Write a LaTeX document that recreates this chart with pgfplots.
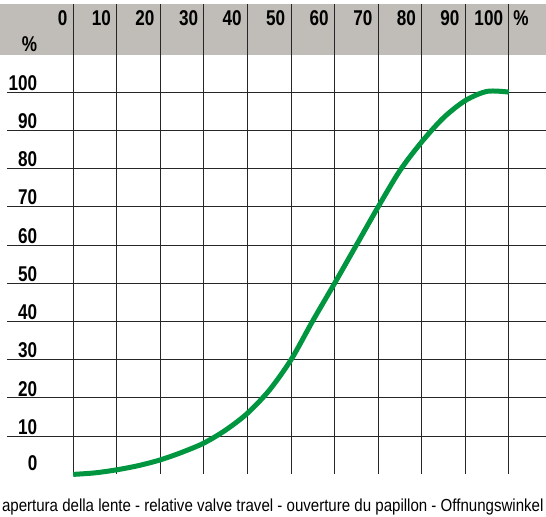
\documentclass[border=0pt]{standalone}
\usepackage{pgfplots}
\pgfplotsset{compat=1.18}
\usepackage{fontspec}
\setmainfont{Liberation Sans}
\newfontfamily\headfont[FakeStretch=0.8]{Liberation Sans}
\newfontfamily\capfont[FakeStretch=0.865]{Liberation Sans}
\definecolor{band}{RGB}{192,189,184}
\definecolor{curvegreen}{RGB}{0,150,64}
\begin{document}
\begin{tikzpicture}
\begin{axis}[
    x=4.362bp, y=3.827bp,
    xmin=-16.8, xmax=108.4,
    ymin=-11, ymax=124.1,
    hide axis, clip=false,
]
\path (rel axis cs:0,0) rectangle (rel axis cs:1,1);
% header band
\fill[band] (axis cs:-16.8,109.8) rectangle (axis cs:108.4,123.1);
% horizontal lines and y labels
\pgfplotsinvokeforeach{10,20,...,100}{
  \draw[black!85, line width=1bp] (axis cs:-15.2,#1) -- (axis cs:108.4,#1);
  \node[anchor=south east, inner sep=0pt, font=\headfont\bfseries\fontsize{21.5}{22}\selectfont]
    at (axis cs:-8.2,#1+0.4) {#1};
}
\node[anchor=south east, inner sep=0pt, font=\headfont\bfseries\fontsize{21.5}{22}\selectfont]
  at (axis cs:-8.2,0.8) {0};
% vertical lines and x labels
\pgfplotsinvokeforeach{0,10,...,100}{
  \draw[black!85, line width=1bp] (axis cs:#1,0.2) -- (axis cs:#1,123.1);
  \node[anchor=base east, inner sep=0pt, font=\headfont\bfseries\fontsize{21.5}{22}\selectfont]
    at (axis cs:#1-1.3,117.4) {#1};
}
\node[anchor=base west, inner sep=0pt, font=\headfont\bfseries\fontsize{21.5}{22}\selectfont]
  at (axis cs:101.0,117.4) {\%};
\node[anchor=base west, inner sep=0pt, font=\headfont\bfseries\fontsize{21.5}{22}\selectfont]
  at (axis cs:-11.8,110.5) {\%};
% characteristic curve
\addplot[curvegreen, line width=5bp, smooth] coordinates {
  (0,0) (5,0.4) (10,1.2) (15,2.3) (20,3.8) (25,5.8) (30,8.2) (35,11.6)
  (40,16.0) (45,22.0) (50,30.0) (55,40.2) (60,50.0) (65,60.0) (70,70.0)
  (75,79.5) (80,87.0) (85,93.3) (90,97.8) (95,100.2) (100,100.0)
};
% caption
\node[anchor=base, inner sep=0pt, font=\capfont\fontsize{17.5}{19}\selectfont]
  at (axis cs:45.8,-9.6) {apertura della lente - relative valve travel - ouverture du papillon - Offnungswinkel};
\end{axis}
\end{tikzpicture}
\end{document}
